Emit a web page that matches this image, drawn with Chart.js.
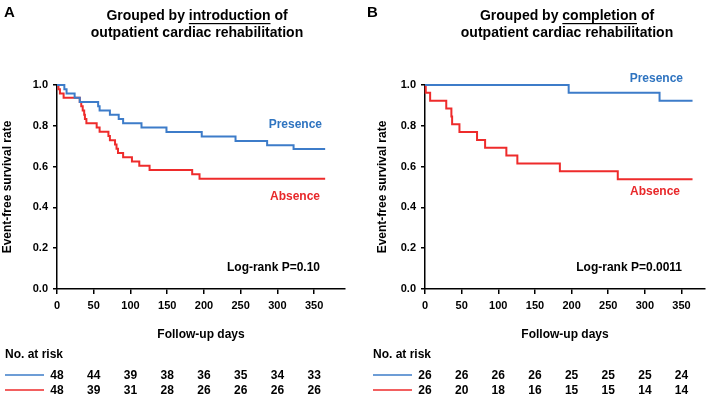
<!DOCTYPE html>
<html>
<head>
<meta charset="utf-8">
<script src="https://cdn.jsdelivr.net/npm/chart.js@4.4.1/dist/chart.umd.min.js"></script>
<style>
  body { margin: 0; background: #fff; }
  #wrap { position: relative; width: 713px; height: 402px; background: #fff; }
  canvas { position: absolute; top: 0; }
</style>
</head>
<body>
<div id="wrap">
  <canvas id="panelA" width="356" height="402" style="left:0"></canvas>
  <canvas id="panelB" width="357" height="402" style="left:356px"></canvas>
</div>
<script>
// tick labels
const dayTicks = [0, 50, 100, 150, 200, 250, 300, 350];
const survTicks = [0, 0.2, 0.4, 0.6, 0.8, 1.0];

// A: grouped by introduction
const presA_days = [0, 10, 13, 24, 31, 56, 58, 72, 84, 90, 115, 149, 197, 243, 286, 322, 365];
const presA_surv = [1, 0.979, 0.958, 0.938, 0.917, 0.896, 0.875, 0.854, 0.833, 0.813, 0.792, 0.769, 0.747, 0.725, 0.705, 0.686, 0.686];
const absA_days = [0, 2, 4, 9, 31, 33, 35, 37, 38, 40, 54, 58, 70, 72, 79, 81, 83, 90, 102, 112, 126, 184, 194, 365];
const absA_surv = [1, 0.979, 0.958, 0.938, 0.917, 0.896, 0.875, 0.854, 0.833, 0.813, 0.792, 0.771, 0.75, 0.729, 0.708, 0.688, 0.667, 0.646, 0.625, 0.604, 0.583, 0.562, 0.54, 0.54];
const riskA_pres = [48, 44, 39, 38, 36, 35, 34, 33];
const riskA_abs = [48, 39, 31, 28, 26, 26, 26, 26];

// B: grouped by completion
const presB_days = [0, 196, 320, 365];
const presB_surv = [1, 0.962, 0.923, 0.923];
const absB_days = [0, 1, 7, 29, 36, 37, 47, 71, 82, 111, 126, 184, 263, 365];
const absB_surv = [1, 0.962, 0.923, 0.885, 0.846, 0.808, 0.769, 0.731, 0.692, 0.654, 0.615, 0.577, 0.538, 0.538];
const riskB_pres = [26, 26, 26, 26, 25, 25, 25, 24];
const riskB_abs = [26, 20, 18, 16, 15, 15, 14, 14];

const FONT = 'Arial, "Liberation Sans", sans-serif';
const BLUE = '#3d7cc9', RED = '#ee2b2b';
const BLUE_TXT = '#2f74c0', RED_TXT = '#e8282a';

Chart.defaults.font.family = FONT;
Chart.defaults.color = '#000';

function toPoints(days, surv) {
  return days.map((d, i) => ({x: d, y: surv[i]}));
}

// titles, group labels and the number-at-risk table
const panelText = {
  id: 'panelText',
  afterDraw(chart, args, o) {
    const ctx = chart.ctx;
    const xs = chart.scales.x;
    ctx.save();
    ctx.textBaseline = 'middle';
    ctx.fillStyle = '#000';

    ctx.font = 'bold 15px ' + FONT;
    ctx.textAlign = 'left';
    ctx.fillText(o.letter, o.letterX, 13);

    // two-line title with one underlined word
    ctx.font = 'bold 14px ' + FONT;
    const parts = ['Grouped by ', o.word, ' of'];
    const w = parts.map(p => ctx.measureText(p).width);
    let x = o.titleX - (w[0] + w[1] + w[2]) / 2;
    parts.forEach((p, i) => {
      ctx.fillText(p, x, 16);
      if (i === 1) {
        ctx.fillRect(x, 23, w[1], 1.2);
      }
      x += w[i];
    });
    ctx.textAlign = 'center';
    ctx.fillText('outpatient cardiac rehabilitation', o.titleX, 33);

    ctx.textAlign = 'right';
    ctx.font = 'bold 12px ' + FONT;
    ctx.fillStyle = BLUE_TXT;
    ctx.fillText('Presence', o.presPos[0], o.presPos[1]);
    ctx.fillStyle = RED_TXT;
    ctx.fillText('Absence', o.absPos[0], o.absPos[1]);
    ctx.fillStyle = '#000';
    ctx.fillText(o.logrank, o.logPos[0], o.logPos[1]);

    ctx.textAlign = 'left';
    ctx.fillText('No. at risk', o.tableX, 355);
    [[o.riskPres, BLUE], [o.riskAbs, RED]].forEach(([row, col], r) => {
      const y = 375 + r * 15;
      ctx.strokeStyle = col;
      ctx.lineWidth = 1.5;
      ctx.beginPath();
      ctx.moveTo(o.tableX, y);
      ctx.lineTo(o.tableX + 39, y);
      ctx.stroke();
      ctx.textAlign = 'center';
      ctx.fillStyle = '#000';
      row.forEach((n, i) => ctx.fillText(String(n), xs.getPixelForValue(dayTicks[i]), y + 1));
    });
    ctx.restore();
  }
};

function makePanel(id, cfg) {
  return new Chart(document.getElementById(id), {
    type: 'line',
    data: {
      datasets: [
        {
          label: 'Presence',
          data: toPoints(cfg.presDays, cfg.presSurv),
          borderColor: BLUE,
          borderWidth: 2,
          stepped: 'before',
          pointRadius: 0,
          clip: false
        },
        {
          label: 'Absence',
          data: toPoints(cfg.absDays, cfg.absSurv),
          borderColor: RED,
          borderWidth: 2,
          stepped: 'before',
          pointRadius: 0,
          clip: false
        }
      ]
    },
    options: {
      responsive: false,
      animation: false,
      layout: {padding: {left: cfg.padLeft, right: cfg.padRight, top: 85, bottom: 60}},
      plugins: {
        legend: {display: false},
        tooltip: {enabled: false},
        panelText: cfg.text
      },
      scales: {
        x: {
          type: 'linear',
          min: 0,
          max: cfg.xMax,
          afterBuildTicks: s => { s.ticks = dayTicks.map(v => ({value: v})); },
          afterFit: s => { s.height = 53; },
          border: {color: '#000', width: 1.5},
          grid: {drawOnChartArea: false, color: '#000', lineWidth: 1.5, tickLength: 5},
          ticks: {color: '#000', font: {size: 11, weight: 'bold'}, padding: 5, maxRotation: 0},
          title: {display: true, text: 'Follow-up days', color: '#000', font: {size: 12, weight: 'bold'}, padding: 0}
        },
        y: {
          min: 0,
          max: 1,
          afterBuildTicks: s => { s.ticks = survTicks.map(v => ({value: v})); },
          afterFit: s => { s.width = cfg.yWidth; },
          border: {color: '#000', width: 1.5},
          grid: {drawOnChartArea: false, color: '#000', lineWidth: 1.5, tickLength: 4},
          ticks: {color: '#000', font: {size: 11, weight: 'bold'}, padding: 5, callback: v => Number(v).toFixed(1)},
          title: {display: true, text: 'Event-free survival rate', color: '#000', font: {size: 12, weight: 'bold'}, padding: 0}
        }
      }
    },
    plugins: [panelText]
  });
}

makePanel('panelA', {
  presDays: presA_days, presSurv: presA_surv,
  absDays: absA_days, absSurv: absA_surv,
  xMax: 392, padLeft: 0, yWidth: 57, padRight: 11,
  text: {
    letter: 'A', letterX: 4, word: 'introduction', titleX: 197,
    presPos: [322, 125], absPos: [320, 197], logPos: [320, 268], logrank: 'Log-rank P=0.10',
    tableX: 5, riskPres: riskA_pres, riskAbs: riskA_abs
  }
});

makePanel('panelB', {
  presDays: presB_days, presSurv: presB_surv,
  absDays: absB_days, absSurv: absB_surv,
  xMax: 382, padLeft: 19, yWidth: 50, padRight: 8,
  text: {
    letter: 'B', letterX: 11, word: 'completion', titleX: 211,
    presPos: [327, 79], absPos: [324, 192], logPos: [326, 268], logrank: 'Log-rank P=0.0011',
    tableX: 17, riskPres: riskB_pres, riskAbs: riskB_abs
  }
});
</script>
</body>
</html>
